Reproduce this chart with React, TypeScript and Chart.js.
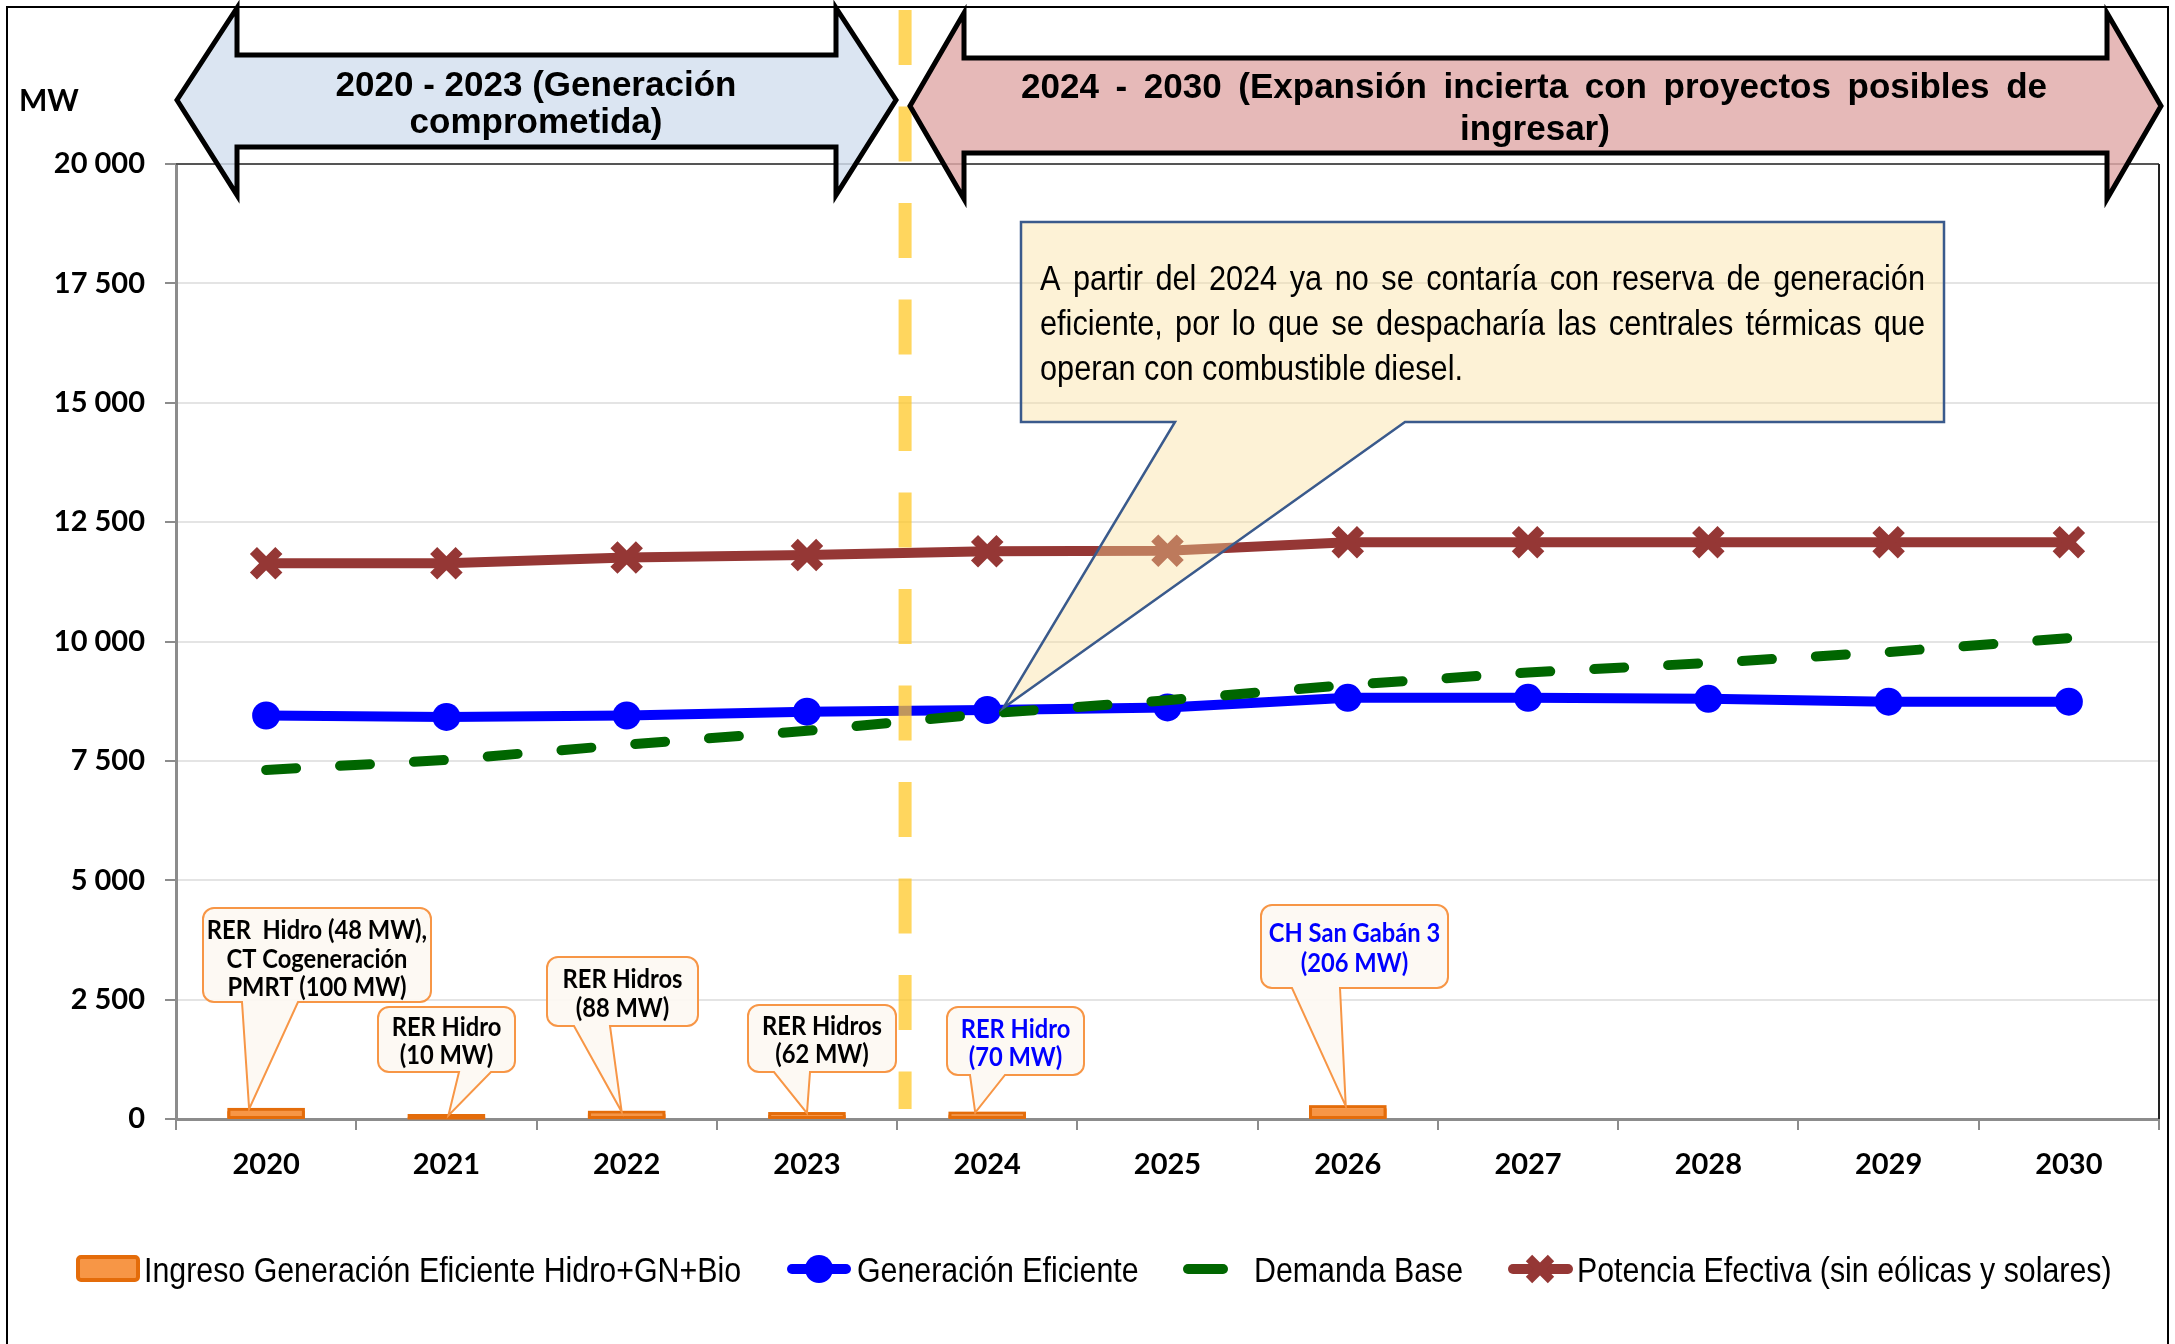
import React, { useEffect, useRef } from 'react';
import { Chart, registerables } from 'chart.js';

Chart.register(...registerables);

// ---------------- DATA ----------------
const years = ['2020', '2021', '2022', '2023', '2024', '2025', '2026', '2027', '2028', '2029', '2030'];
const ingresoGeneracion = [148, 10, 88, 62, 70, null, 206, null, null, null, null];
const generacionEficiente = [8450, 8420, 8450, 8530, 8565, 8620, 8820, 8820, 8800, 8740, 8740];
const demandaBase = [7310, 7520, 7840, 8130, 8490, 8770, 9090, 9350, 9550, 9780, 10070];
const potenciaEfectiva = [11640, 11640, 11760, 11810, 11890, 11900, 12080, 12080, 12080, 12080, 12080];
const seriesNames = [
  'Ingreso Generación Eficiente Hidro+GN+Bio',
  'Generación Eficiente',
  'Demanda Base',
  'Potencia Efectiva (sin eólicas y solares)',
];
const yMin = 0;
const yMax = 20000;
const yStep = 2500;
const yUnit = 'MW';
const periodLeft = ['2020 - 2023 (Generación', 'comprometida)'];
const periodRight = ['2024 - 2030 (Expansión incierta con proyectos posibles de', 'ingresar)'];
const noteLines = [
  'A partir del 2024 ya no se contaría con reserva de generación',
  'eficiente, por lo que se despacharía las centrales térmicas que',
  'operan con combustible diesel.',
];
const projectLabels = [
  { year: '2020', lines: ['RER  Hidro (48 MW),', 'CT Cogeneración', 'PMRT (100 MW)'], color: '#000000' },
  { year: '2021', lines: ['RER Hidro', '(10 MW)'], color: '#000000' },
  { year: '2022', lines: ['RER Hidros', '(88 MW)'], color: '#000000' },
  { year: '2023', lines: ['RER Hidros', '(62 MW)'], color: '#000000' },
  { year: '2024', lines: ['RER Hidro', '(70 MW)'], color: '#0000FF' },
  { year: '2026', lines: ['CH San Gabán 3', '(206 MW)'], color: '#0000FF' },
];

// ---------------- LAYOUT (annotation boxes, px) ----------------
const projectBoxes = [
  { box: [203, 908, 431, 1002], base: [242, 298], dx: -17, centers: [930, 959, 987] },
  { box: [378, 1007, 515, 1072], base: [459, 491], dx: 2, centers: [1027, 1055] },
  { box: [547, 957, 698, 1026], base: [574, 610], dx: -5, centers: [979, 1008] },
  { box: [748, 1005, 896, 1072], base: [774, 810], dx: 0, centers: [1026, 1054] },
  { box: [947, 1007, 1084, 1075], base: [970, 1005], dx: -12, centers: [1029, 1057] },
  { box: [1261, 905, 1448, 988], base: [1292, 1340], dx: -2, centers: [933, 963] },
];

const SANS = '"Liberation Sans", Arial, sans-serif';

function fmt(v: number) {
  return String(v).replace(/\B(?=(\d{3})+(?!\d))/g, ' ');
}

function drawText(ctx: CanvasRenderingContext2D, s: string, x: number, y: number, font: string, color: string, align = 'left', sx = 1) {
  ctx.save();
  ctx.font = font;
  ctx.fillStyle = color;
  ctx.textBaseline = 'alphabetic';
  ctx.textAlign = 'left';
  const w = ctx.measureText(s).width * sx;
  const x0 = align === 'center' ? x - w / 2 : align === 'right' ? x - w : x;
  ctx.translate(x0, y);
  ctx.scale(sx, 1);
  ctx.fillText(s, 0, 0);
  ctx.restore();
}

function drawJustified(ctx: CanvasRenderingContext2D, s: string, x: number, y: number, width: number, font: string, color: string, sx = 1) {
  ctx.save();
  ctx.font = font;
  const words = s.split(' ');
  const ws = words.map((w) => ctx.measureText(w).width * sx);
  const sum = ws.reduce((a, b) => a + b, 0);
  const gap = (width - sum) / (words.length - 1);
  let cx = x;
  ctx.restore();
  words.forEach((w, i) => {
    drawText(ctx, w, cx, y, font, color, 'left', sx);
    cx += ws[i] + gap;
  });
}

function calloutPath(ctx: CanvasRenderingContext2D, x1: number, y1: number, x2: number, y2: number, r: number, bL: number, bR: number, tx: number, ty: number) {
  ctx.beginPath();
  ctx.moveTo(x1 + r, y1);
  ctx.lineTo(x2 - r, y1);
  ctx.arcTo(x2, y1, x2, y1 + r, r);
  ctx.lineTo(x2, y2 - r);
  ctx.arcTo(x2, y2, x2 - r, y2, r);
  ctx.lineTo(bR, y2);
  ctx.lineTo(tx, ty);
  ctx.lineTo(bL, y2);
  ctx.lineTo(x1 + r, y2);
  ctx.arcTo(x1, y2, x1, y2 - r, r);
  ctx.lineTo(x1, y1 + r);
  ctx.arcTo(x1, y1, x1 + r, y1, r);
  ctx.closePath();
}

function drawX(ctx: CanvasRenderingContext2D, x: number, y: number, r: number, w: number, color: string) {
  ctx.save();
  ctx.strokeStyle = color;
  ctx.lineWidth = w;
  ctx.beginPath();
  ctx.moveTo(x - r, y - r);
  ctx.lineTo(x + r, y + r);
  ctx.moveTo(x + r, y - r);
  ctx.lineTo(x - r, y + r);
  ctx.stroke();
  ctx.restore();
}

const overlayPlugin = {
  id: 'overlay',
  afterDatasetsDraw(chart: any) {
    const ctx: CanvasRenderingContext2D = chart.ctx;
    const xs = chart.scales.x;
    const ys = chart.scales.y;
    const ca = chart.chartArea;

    // outline the small bars the way the spreadsheet does (border outside the bar)
    const meta = chart.getDatasetMeta(0);
    meta.data.forEach((el: any, i: number) => {
      if (ingresoGeneracion[i] == null) return;
      const p = el.getProps(['x', 'y', 'base', 'width'], true);
      const left = p.x - p.width / 2;
      const top = Math.min(p.y, p.base);
      const h = Math.abs(p.base - p.y);
      ctx.save();
      ctx.fillStyle = '#F79646';
      ctx.fillRect(left, top - 1, p.width, h + 1);
      ctx.strokeStyle = '#E46C0A';
      ctx.lineWidth = 3;
      ctx.strokeRect(left + 1.5, top - 2.5, p.width - 3, h + 2);
      ctx.restore();
    });

    // plot frame top / right
    ctx.save();
    ctx.strokeStyle = '#555';
    ctx.lineWidth = 2;
    ctx.beginPath();
    ctx.moveTo(ca.left, ca.top);
    ctx.lineTo(ca.right, ca.top);
    ctx.stroke();
    ctx.strokeStyle = '#222';
    ctx.beginPath();
    ctx.moveTo(ca.right, ca.top);
    ctx.lineTo(ca.right, ca.bottom);
    ctx.stroke();
    ctx.restore();

    // yellow dashed divider between 2023 and 2024
    const divX = (xs.getPixelForValue(3) + xs.getPixelForValue(4)) / 2 + 8;
    ctx.save();
    ctx.strokeStyle = 'rgba(255,200,40,0.75)';
    ctx.lineWidth = 13;
    ctx.setLineDash([55, 41.5]);
    ctx.beginPath();
    ctx.moveTo(divX, 10);
    ctx.lineTo(divX, ca.bottom - 10);
    ctx.stroke();
    ctx.restore();

    // project callouts
    projectLabels.forEach((p, i) => {
      const g = projectBoxes[i];
      const idx = years.indexOf(p.year);
      const tx = xs.getPixelForValue(idx) + g.dx;
      const ty = ys.getPixelForValue(ingresoGeneracion[idx] as number) - 3;
      const [x1, y1, x2, y2] = g.box;
      ctx.save();
      calloutPath(ctx, x1, y1, x2, y2, 11, g.base[0], g.base[1], tx, ty);
      ctx.fillStyle = 'rgba(253,248,242,0.9)';
      ctx.fill();
      ctx.strokeStyle = '#F79646';
      ctx.lineWidth = 2;
      ctx.stroke();
      ctx.restore();
      const font = 'bold 26px Lato, sans-serif';
      ctx.save();
      ctx.font = font;
      const sx = 120 / ctx.measureText('RER Hidros').width;
      ctx.restore();
      p.lines.forEach((ln, k) => {
        drawText(ctx, ln, (x1 + x2) / 2, g.centers[k] + 9, font, p.color, 'center', sx);
      });
    });

    // note callout
    {
      const tx = xs.getPixelForValue(4) + 16;
      const ty = ys.getPixelForValue(generacionEficiente[4]) - 2;
      ctx.save();
      ctx.beginPath();
      ctx.moveTo(1021, 222);
      ctx.lineTo(1944, 222);
      ctx.lineTo(1944, 422);
      ctx.lineTo(1405, 422);
      ctx.lineTo(tx, ty);
      ctx.lineTo(1175, 422);
      ctx.lineTo(1021, 422);
      ctx.closePath();
      ctx.fillStyle = 'rgba(250,222,152,0.4)';
      ctx.fill();
      ctx.strokeStyle = '#3A5A8C';
      ctx.lineWidth = 2.5;
      ctx.stroke();
      ctx.restore();
      const font = '35px ' + SANS;
      ctx.save();
      ctx.font = font;
      const sx = 423 / ctx.measureText(noteLines[2]).width;
      ctx.restore();
      drawJustified(ctx, noteLines[0], 1040, 290, 885, font, '#000', sx);
      drawJustified(ctx, noteLines[1], 1040, 335, 885, font, '#000', sx);
      drawText(ctx, noteLines[2], 1040, 380, font, '#000', 'left', sx);
    }
  },
  afterDraw(chart: any) {
    const ctx: CanvasRenderingContext2D = chart.ctx;

    // period arrows
    const arrow = (pts: number[][], fill: string) => {
      ctx.save();
      ctx.beginPath();
      pts.forEach((p, i) => (i ? ctx.lineTo(p[0], p[1]) : ctx.moveTo(p[0], p[1])));
      ctx.closePath();
      ctx.fillStyle = fill;
      ctx.fill();
      ctx.strokeStyle = '#000';
      ctx.lineWidth = 5;
      ctx.lineJoin = 'miter';
      ctx.stroke();
      ctx.restore();
    };
    arrow(
      [[177, 100], [237, 8], [237, 55], [836, 55], [836, 8], [896, 100], [836, 195], [836, 147], [237, 147], [237, 195]],
      'rgba(211,223,239,0.82)'
    );
    arrow(
      [[910, 106], [964, 13], [964, 58], [2107, 58], [2107, 13], [2161, 106], [2107, 199], [2107, 153], [964, 153], [964, 199]],
      'rgba(224,169,168,0.82)'
    );
    const hfont = 'bold 35px ' + SANS;
    drawText(ctx, periodLeft[0], 536, 96, hfont, '#000', 'center');
    drawText(ctx, periodLeft[1], 536, 133, hfont, '#000', 'center');
    drawJustified(ctx, periodRight[0], 1021, 98, 1026, hfont, '#000');
    drawText(ctx, periodRight[1], 1535, 140, hfont, '#000', 'center');

    // unit label
    drawText(ctx, yUnit, 19, 111, 'bold 30px Lato, sans-serif', '#000');

    // legend
    const lfont = '35px ' + SANS;
    ctx.save();
    ctx.font = lfont;
    const lsx = 597 / ctx.measureText(seriesNames[0]).width;
    ctx.restore();
    const ly = 1269;
    const base = 1282;
    // bar item
    ctx.save();
    ctx.fillStyle = '#F79646';
    ctx.strokeStyle = '#E46C0A';
    ctx.lineWidth = 4;
    ctx.beginPath();
    ctx.roundRect(78, 1257, 60, 23, 3);
    ctx.fill();
    ctx.stroke();
    ctx.restore();
    drawText(ctx, seriesNames[0], 144, base, lfont, '#000', 'left', lsx);
    // blue
    ctx.save();
    ctx.strokeStyle = '#0000FF';
    ctx.lineWidth = 10;
    ctx.lineCap = 'round';
    ctx.beginPath();
    ctx.moveTo(792, ly);
    ctx.lineTo(846, ly);
    ctx.stroke();
    ctx.fillStyle = '#0000FF';
    ctx.beginPath();
    ctx.arc(819, ly, 14, 0, Math.PI * 2);
    ctx.fill();
    ctx.restore();
    drawText(ctx, seriesNames[1], 857, base, lfont, '#000', 'left', lsx);
    // green
    ctx.save();
    ctx.strokeStyle = '#006600';
    ctx.lineWidth = 10;
    ctx.lineCap = 'round';
    ctx.beginPath();
    ctx.moveTo(1188, ly);
    ctx.lineTo(1223, ly);
    ctx.stroke();
    ctx.restore();
    drawText(ctx, seriesNames[2], 1254, base, lfont, '#000', 'left', lsx);
    // red
    ctx.save();
    ctx.strokeStyle = '#953735';
    ctx.lineWidth = 10;
    ctx.lineCap = 'round';
    ctx.beginPath();
    ctx.moveTo(1513, ly);
    ctx.lineTo(1568, ly);
    ctx.stroke();
    ctx.restore();
    drawX(ctx, 1540, ly, 11, 9, '#953735');
    drawText(ctx, seriesNames[3], 1577, base, lfont, '#000', 'left', lsx);

    // outer frame
    ctx.save();
    ctx.strokeStyle = '#000';
    ctx.lineWidth = 2;
    ctx.strokeRect(7, 7, 2161, 1350);
    ctx.restore();
  },
};

export default function App() {
  const ref = useRef<HTMLCanvasElement>(null);
  useEffect(() => {
    document.body.style.margin = '0';
    const canvas = ref.current!;
    const tickFont = { family: 'Lato', weight: 'bold' as const, size: 29 };
    const chart = new Chart(canvas, {
      type: 'bar',
      data: {
        labels: years,
        datasets: [
          {
            type: 'bar',
            label: seriesNames[0],
            data: ingresoGeneracion,
            backgroundColor: '#F79646',
            borderColor: '#E46C0A',
            borderWidth: 0,
            borderSkipped: false,
            barPercentage: 0.43,
            categoryPercentage: 1,
            order: 3,
          } as any,
          {
            type: 'line',
            label: seriesNames[1],
            data: generacionEficiente,
            borderColor: '#0000FF',
            backgroundColor: '#0000FF',
            borderWidth: 10,
            pointStyle: 'circle',
            pointRadius: 14,
            pointBorderWidth: 0,
            pointBackgroundColor: '#0000FF',
            tension: 0,
            order: 1,
          },
          {
            type: 'line',
            label: seriesNames[2],
            data: demandaBase,
            borderColor: '#006600',
            borderWidth: 10,
            borderDash: [30, 44],
            borderCapStyle: 'round',
            pointRadius: 0,
            tension: 0,
            order: 0,
          },
          {
            type: 'line',
            label: seriesNames[3],
            data: potenciaEfectiva,
            borderColor: '#953735',
            backgroundColor: '#953735',
            borderWidth: 10,
            pointStyle: 'crossRot',
            pointRadius: 18,
            pointBorderWidth: 10,
            pointBorderColor: '#953735',
            tension: 0,
            order: 2,
          },
        ],
      },
      options: {
        responsive: false,
        animation: false,
        devicePixelRatio: 1,
        layout: { autoPadding: false, padding: { left: 0, top: 164, right: 16, bottom: 0 } },
        plugins: { legend: { display: false }, tooltip: { enabled: false } },
        scales: {
          x: {
            grid: { display: true, drawOnChartArea: false, drawTicks: true, tickLength: 11, color: '#8c8c8c', lineWidth: 2, offset: true },
            border: { display: true, color: '#8c8c8c', width: 3 },
            ticks: { font: tickFont, color: '#000', padding: 17, maxRotation: 0, autoSkip: false },
            afterFit: (s: any) => {
              s.height = 225;
              s.paddingLeft = 0;
              s.paddingRight = 0;
            },
          },
          y: {
            min: yMin,
            max: yMax,
            ticks: { stepSize: yStep, font: tickFont, color: '#000', padding: 20, callback: (v: any) => fmt(Number(v)) },
            grid: { color: '#e4e4e4', lineWidth: 2, tickLength: 11, tickColor: '#8c8c8c', drawTicks: true },
            border: { color: '#8c8c8c', width: 3 },
            afterFit: (s: any) => {
              s.width = 176;
              s.paddingTop = 0;
              s.paddingBottom = 0;
            },
          },
        },
      },
      plugins: [overlayPlugin],
    });
    return () => chart.destroy();
  }, []);
  return <canvas ref={ref} width={2175} height={1344} style={{ display: 'block', width: '2175px', height: '1344px' }} />;
}
